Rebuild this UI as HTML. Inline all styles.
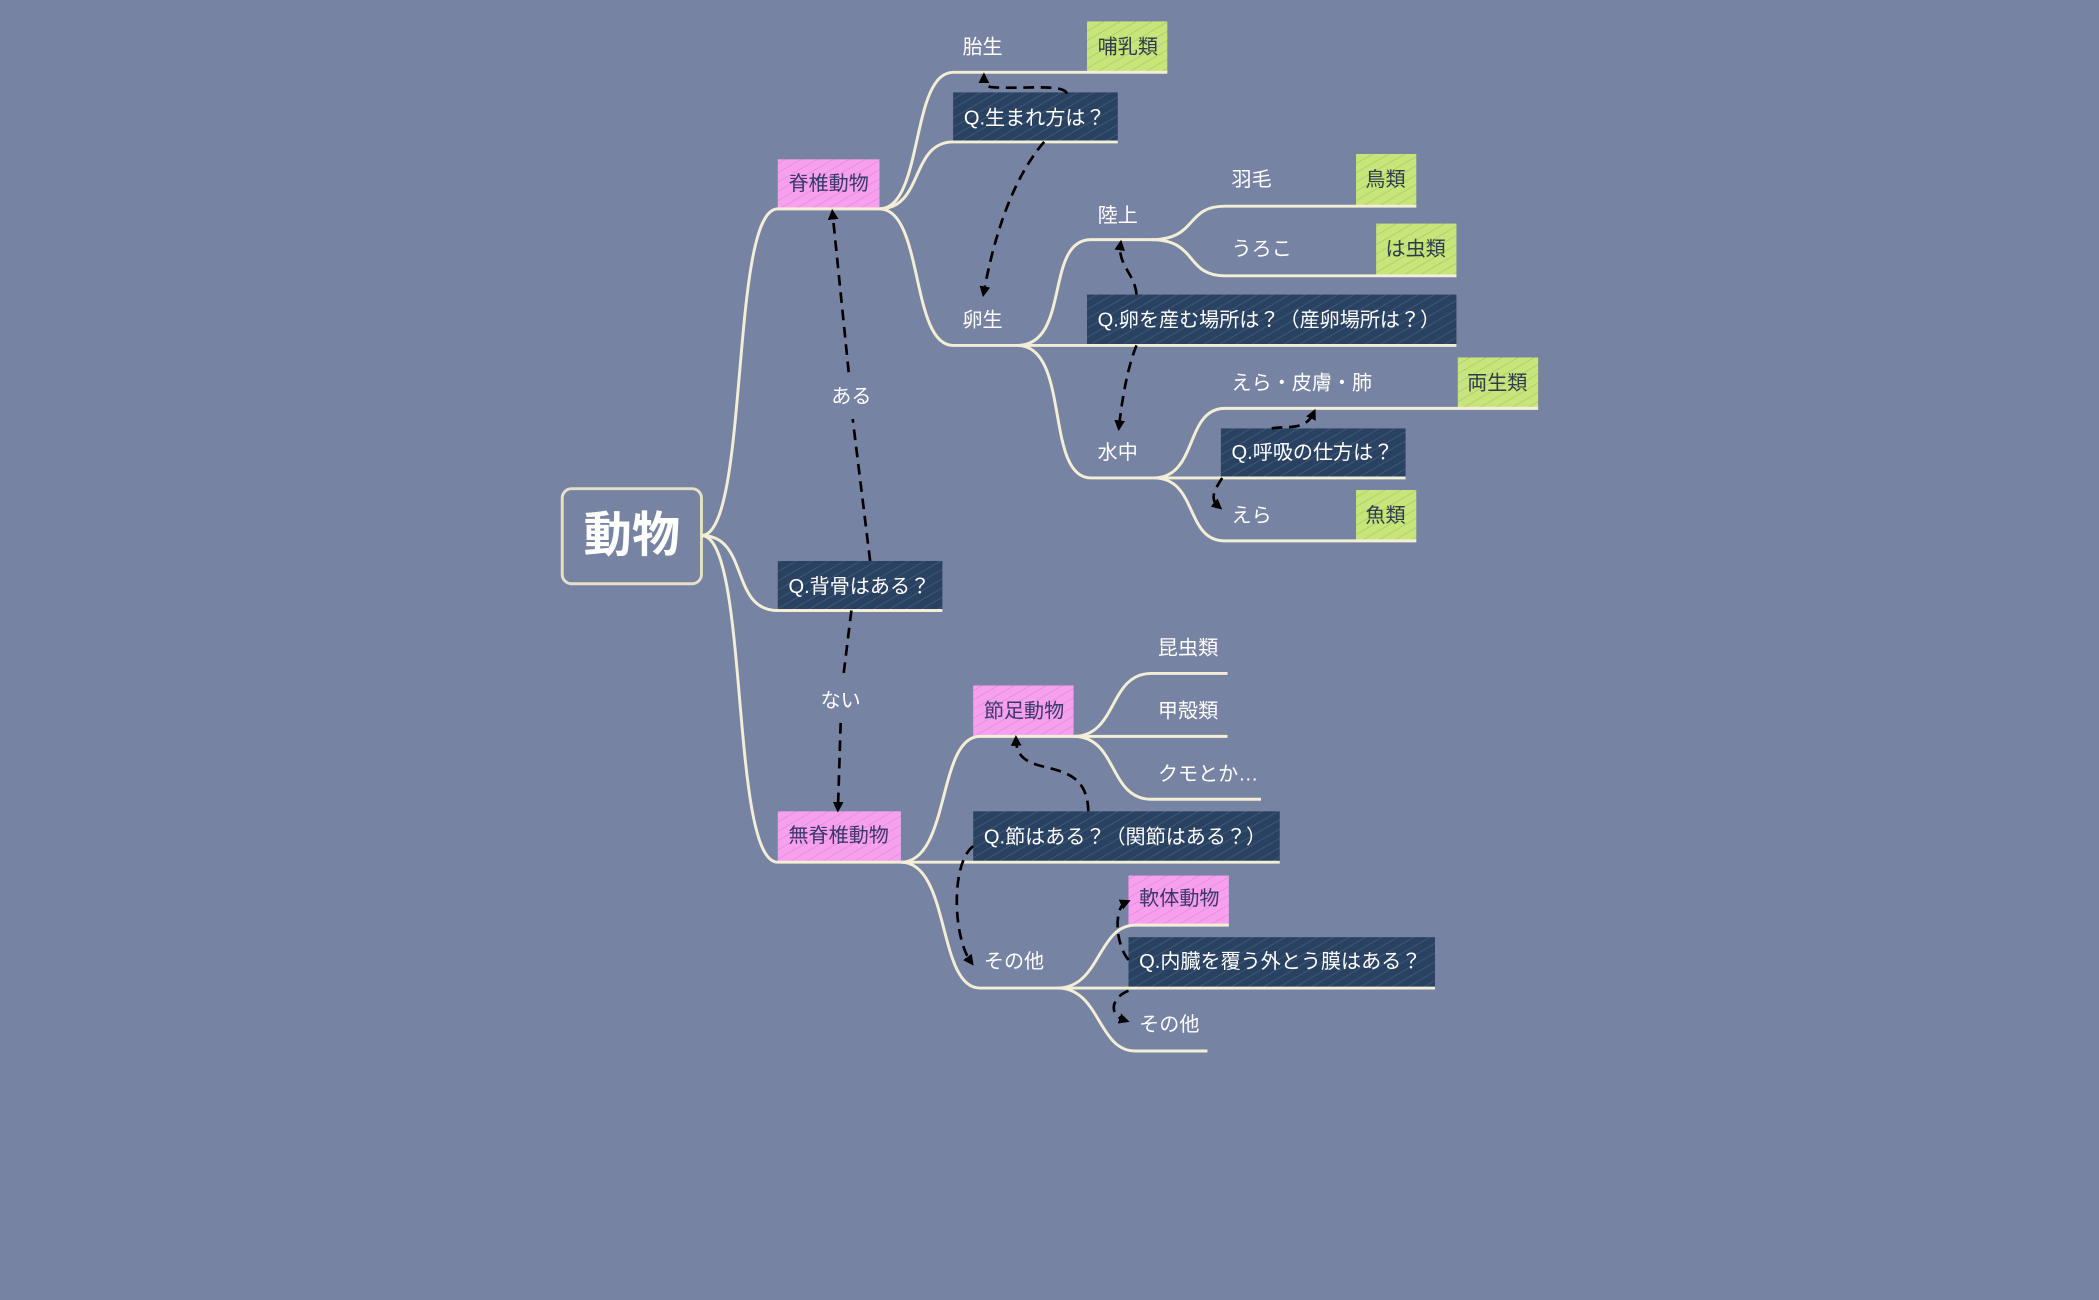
<!DOCTYPE html>
<html><head><meta charset="utf-8"><style>
html,body{margin:0;padding:0;background:#7783a2;}
svg{display:block}
text{font-family:"Liberation Sans","Noto Sans CJK JP",sans-serif;font-size:15px;}
</style></head><body>
<svg width="2099" height="1300" viewBox="0 0 1568 971" preserveAspectRatio="none" xmlns="http://www.w3.org/2000/svg">
<defs>
<pattern id="hd" width="6" height="6" patternUnits="userSpaceOnUse" patternTransform="rotate(60)"><rect width="6" height="6" fill="#2a4262"/><line x1="0" y1="0" x2="0" y2="6" stroke="#4a5f80" stroke-width="1"/></pattern>
<pattern id="hp" width="6" height="6" patternUnits="userSpaceOnUse" patternTransform="rotate(60)"><rect width="6" height="6" fill="#f8a0ee"/><line x1="0" y1="0" x2="0" y2="6" stroke="#d98ad8" stroke-width="1"/></pattern>
<pattern id="hg" width="6" height="6" patternUnits="userSpaceOnUse" patternTransform="rotate(60)"><rect width="6" height="6" fill="#c8e57a"/><line x1="0" y1="0" x2="0" y2="6" stroke="#a9c56a" stroke-width="1"/></pattern>
<marker id="ar" markerWidth="8" markerHeight="8" refX="4" refY="4" orient="auto" markerUnits="userSpaceOnUse"><path d="M0,0 L8,4 L0,8 z" fill="#000"/></marker>
</defs>
<rect width="1568" height="971" fill="#7783a2"/>
<!-- boxes -->
<g>
<rect x="581" y="119" width="76" height="37" fill="url(#hp)"/>
<rect x="581" y="419" width="123" height="37" fill="url(#hd)"/>
<rect x="581" y="606" width="92" height="38" fill="url(#hp)"/>
<rect x="812" y="16" width="60" height="38" fill="url(#hg)"/>
<rect x="712" y="69" width="123" height="37" fill="url(#hd)"/>
<rect x="812" y="220" width="276" height="38" fill="url(#hd)"/>
<rect x="1013" y="115" width="45" height="39" fill="url(#hg)"/>
<rect x="1028" y="167" width="60" height="39" fill="url(#hg)"/>
<rect x="1089" y="267" width="60" height="38" fill="url(#hg)"/>
<rect x="912" y="320" width="138" height="37" fill="url(#hd)"/>
<rect x="1013" y="366" width="45" height="38" fill="url(#hg)"/>
<rect x="727" y="512" width="75" height="38" fill="url(#hp)"/>
<rect x="727" y="606" width="229" height="38" fill="url(#hd)"/>
<rect x="843" y="654" width="75" height="37" fill="url(#hp)"/>
<rect x="843" y="700" width="229" height="38" fill="url(#hd)"/>
</g>
<!-- connectors -->
<g fill="none" stroke="#f3eed6" stroke-width="2.2">
<rect x="420" y="365" width="104" height="71" rx="7" stroke="#e6e0c8"/>
<path d="M524 400 C560 400 545 156 581 156 H657"/>
<path d="M524 400 C560 400 545 456 581 456 H704"/>
<path d="M524 400 C560 400 545 644 581 644 H673"/>
<path d="M657 156 C690 156 680 54 712 54 H872"/>
<path d="M657 156 C690 156 680 106 712 106 H835"/>
<path d="M657 156 C690 156 680 258 712 258 H812 H1088"/>
<path d="M760 258 C800 258 780 179 815 179 H860"/>
<path d="M760 258 C800 258 780 357 815 357 H862"/>
<path d="M860 179 C895 179 885 154 915 154 H1058"/>
<path d="M860 179 C895 179 885 206 915 206 H1088"/>
<path d="M862 357 C895 357 885 305 915 305 H1149"/>
<path d="M862 357 H1050"/>
<path d="M862 357 C895 357 885 404 915 404 H1058"/>
<path d="M673 644 C710 644 700 550 732 550 H802"/>
<path d="M673 644 H956"/>
<path d="M673 644 C710 644 700 738 732 738 H790"/>
<path d="M802 550 C835 550 828 503 860 503 H917"/>
<path d="M802 550 H917"/>
<path d="M802 550 C835 550 828 597 860 597 H942"/>
<path d="M790 738 C822 738 820 691 848 691 H918"/>
<path d="M790 738 H1072"/>
<path d="M790 738 C822 738 820 785 848 785 H902"/>
</g>
<!-- dashed -->
<g fill="none" stroke="#000" stroke-width="2" stroke-dasharray="8,5">
<path d="M650 419 L637 313" />
<path d="M634 278 L622 160" marker-end="url(#ar)"/>
<path d="M636 456 L630 505"/>
<path d="M628 540 L626 603" marker-end="url(#ar)"/>
<path d="M797 70 C795 62 760 67 740 65 C735 64 735 60 735 58" marker-end="url(#ar)"/>
<path d="M780 106 C755 135 742 180 735 218" marker-end="url(#ar)"/>
<path d="M849 220 C848 205 835 198 837 183" marker-end="url(#ar)"/>
<path d="M849 258 C842 275 838 300 836 318" marker-end="url(#ar)"/>
<path d="M950 320 C960 318 975 322 981 309" marker-end="url(#ar)"/>
<path d="M913 357 C908 365 903 372 910 378" marker-end="url(#ar)"/>
<path d="M813 606 C812 560 760 585 759 553" marker-end="url(#ar)"/>
<path d="M727 632 C710 645 712 700 725 718" marker-end="url(#ar)"/>
<path d="M843 717 C833 705 832 678 841 674" marker-end="url(#ar)"/>
<path d="M843 740 C830 745 828 758 840 762" marker-end="url(#ar)"/>
</g>
<!-- labels -->
<g fill="#ffffff">
<text x="472" y="412" text-anchor="middle" style="font-size:36px;font-weight:bold">動物</text>
<text x="636" y="301" text-anchor="middle">ある</text>
<text x="628" y="528" text-anchor="middle">ない</text>
<text x="719" y="40">胎生</text>
<text x="719" y="244">卵生</text>
<text x="820" y="166">陸上</text>
<text x="820" y="343">水中</text>
<text x="920" y="139">羽毛</text>
<text x="920" y="191">うろこ</text>
<text x="920" y="291">えら・皮膚・肺</text>
<text x="920" y="390">えら</text>
<text x="865" y="489">昆虫類</text>
<text x="865" y="536">甲殻類</text>
<text x="865" y="583">クモとか…</text>
<text x="735" y="723">その他</text>
<text x="851" y="770">その他</text>
<text x="589" y="443">Q.背骨はある？</text>
<text x="720" y="93">Q.生まれ方は？</text>
<text x="820" y="244">Q.卵を産む場所は？（産卵場所は？）</text>
<text x="920" y="343">Q.呼吸の仕方は？</text>
<text x="735" y="630">Q.節はある？（関節はある？）</text>
<text x="851" y="723">Q.内臓を覆う外とう膜はある？</text>
</g>
<g fill="#3a3868">
<text x="589" y="142">脊椎動物</text>
<text x="589" y="629">無脊椎動物</text>
<text x="735" y="536">節足動物</text>
<text x="851" y="676">軟体動物</text>
</g>
<g fill="#2e3a4e">
<text x="820" y="40">哺乳類</text>
<text x="1020" y="139">鳥類</text>
<text x="1035" y="191">は虫類</text>
<text x="1096" y="291">両生類</text>
<text x="1020" y="390">魚類</text>
</g>
</svg>
</body></html>
